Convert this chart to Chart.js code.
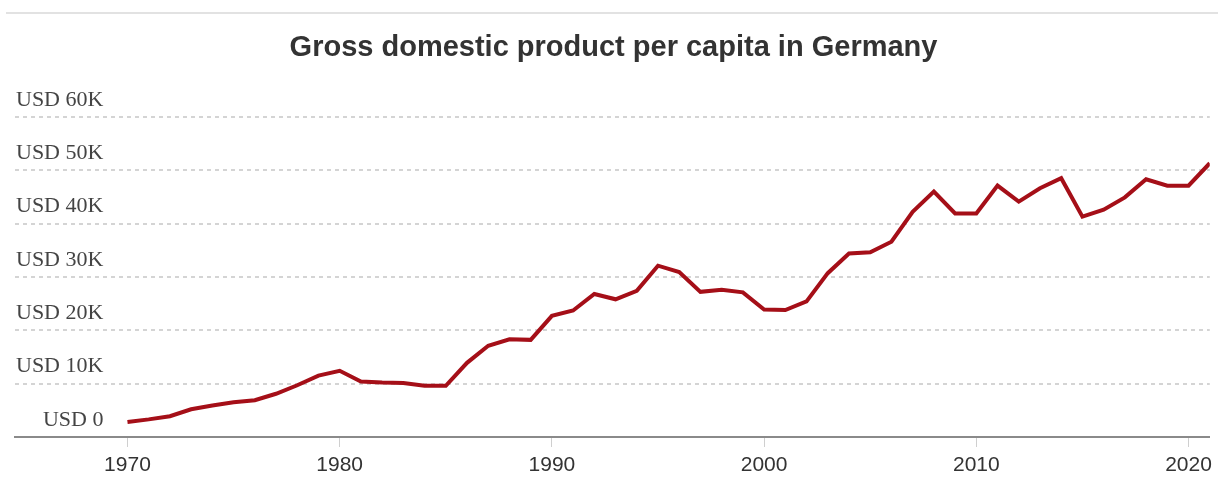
<!DOCTYPE html>
<html>
<head>
<meta charset="utf-8">
<title>Gross domestic product per capita in Germany</title>
<script src="https://cdn.jsdelivr.net/npm/chart.js@4/dist/chart.umd.min.js"></script>
<style>
  html, body { margin: 0; padding: 0; background: #fff; }
  .wrap { position: relative; width: 1218px; height: 477px; }
  .topline { position: absolute; left: 6px; right: 0; top: 12px; height: 2px; background: #e2e2e2; }
  canvas { position: absolute; left: 0; top: 0; }
</style>
</head>
<body>
<div class="wrap">
  <div class="topline"></div>
  <canvas id="gdpChart" width="1218" height="477"></canvas>
</div>
<script>
// GDP per capita, thousands of USD
const years = [
  1970, 1971, 1972, 1973, 1974, 1975, 1976, 1977, 1978, 1979,
  1980, 1981, 1982, 1983, 1984, 1985, 1986, 1987, 1988, 1989,
  1990, 1991, 1992, 1993, 1994, 1995, 1996, 1997, 1998, 1999,
  2000, 2001, 2002, 2003, 2004, 2005, 2006, 2007, 2008, 2009,
  2010, 2011, 2012, 2013, 2014, 2015, 2016, 2017, 2018, 2019,
  2020, 2021
];
const gdpPerCapita = [
  2.8, 3.3, 3.9, 5.2, 5.9, 6.5, 6.9, 8.1, 9.7, 11.5,
  12.4, 10.4, 10.2, 10.1, 9.6, 9.6, 13.9, 17.1, 18.3, 18.2,
  22.7, 23.7, 26.8, 25.8, 27.4, 32.1, 30.9, 27.2, 27.6, 27.1,
  23.9, 23.8, 25.4, 30.7, 34.4, 34.6, 36.6, 42.2, 46.0, 41.9,
  41.9, 47.1, 44.1, 46.6, 48.5, 41.3, 42.6, 44.9, 48.3, 47.1,
  47.1, 51.3
];
const xTicks = [1970, 1980, 1990, 2000, 2010, 2020];
const yTicks = [0, 10, 20, 30, 40, 50, 60];

const points = years.map((yr, i) => ({ x: yr, y: gdpPerCapita[i] }));

new Chart(document.getElementById('gdpChart').getContext('2d'), {
  type: 'line',
  data: {
    datasets: [{
      label: 'GDP per capita',
      data: points,
      borderColor: '#a50f18',
      borderWidth: 4,
      pointRadius: 0,
      tension: 0,
      fill: false
    }]
  },
  options: {
    responsive: false,
    animation: false,
    layout: { padding: { left: 15, right: 6, top: 31, bottom: 0 } },
    plugins: {
      legend: { display: false },
      tooltip: { enabled: false },
      title: {
        display: true,
        text: 'Gross domestic product per capita in Germany',
        color: '#333',
        font: { family: 'Liberation Sans, Arial, sans-serif', size: 29, weight: 'bold', lineHeight: 1.2 },
        padding: { top: 0, bottom: 51 }
      }
    },
    scales: {
      x: {
        type: 'linear',
        min: 1964.7,
        max: 2021,
        afterFit: (scale) => { scale.height = 40; },
        afterBuildTicks: (scale) => { scale.ticks = xTicks.map(v => ({ value: v })); },
        border: { display: true, color: '#8a8a8a', width: 2 },
        grid: { drawOnChartArea: false, drawTicks: true, tickLength: 10, color: '#cfcfcf', lineWidth: 1 },
        ticks: {
          color: '#333',
          padding: 6,
          maxRotation: 0,
          font: { family: 'Liberation Sans, Arial, sans-serif', size: 21 },
          callback: (v) => String(v)
        }
      },
      y: {
        min: 0,
        max: 60,
        afterFit: (scale) => { scale.width = 0; },
        afterBuildTicks: (scale) => { scale.ticks = yTicks.map(v => ({ value: v })); },
        border: { display: false, dash: [4, 4] },
        grid: {
          drawTicks: false,
          color: (ctx) => (ctx.tick && ctx.tick.value === 0 ? 'rgba(0,0,0,0)' : '#d4d4d4'),
          lineWidth: 2
        },
        ticks: {
          mirror: true,
          crossAlign: 'far',
          padding: 1,
          labelOffset: -17,
          color: '#444',
          font: { family: 'Liberation Serif, Times New Roman, serif', size: 22 },
          callback: (v) => (v === 0 ? 'USD 0' : 'USD ' + v + 'K')
        }
      }
    }
  }
});
</script>
</body>
</html>
